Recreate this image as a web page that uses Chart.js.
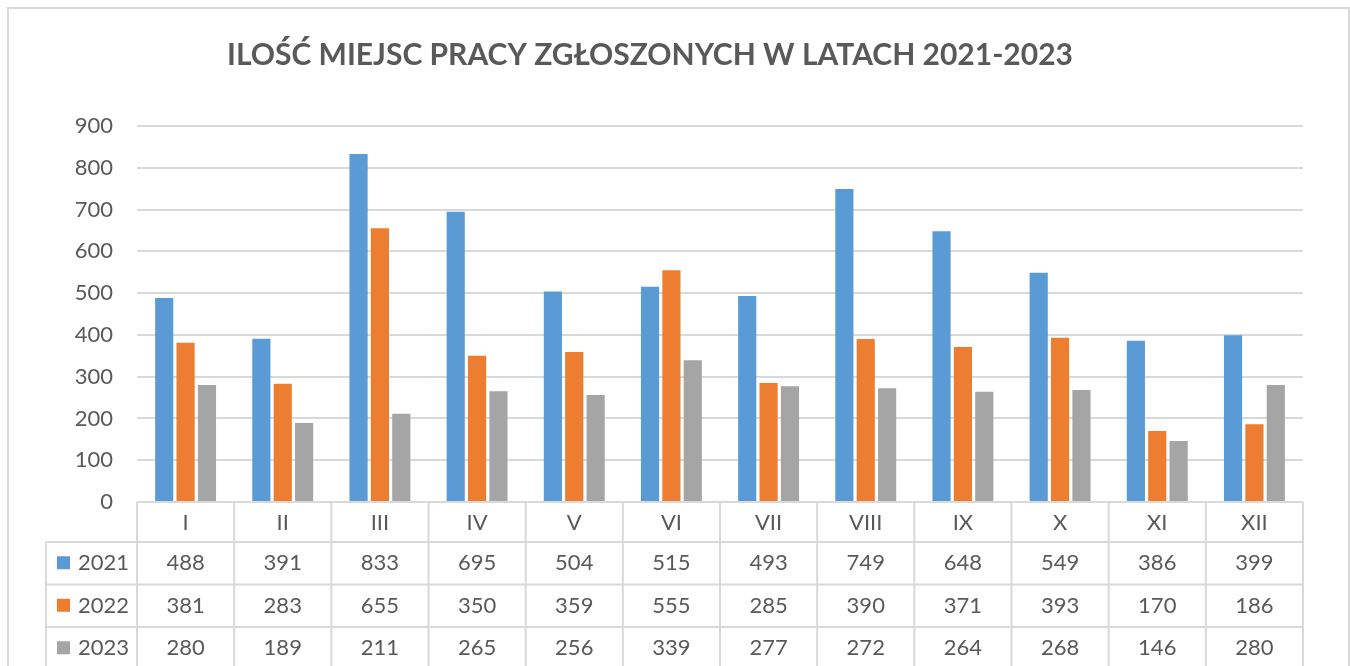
<!DOCTYPE html>
<html lang="pl">
<head>
<meta charset="utf-8">
<title>Ilość miejsc pracy</title>
<script src="https://cdn.jsdelivr.net/npm/chart.js@4"></script>
<style>
    html, body { margin: 0; padding: 0; background: #fff; overflow: hidden; }
    #ramka {
        position: absolute; left: 7px; top: 7px; width: 1339px; height: 700px;
        border: 2px solid #d9d9d9;
    }
    #wykres { position: absolute; left: 0; top: 0; }
</style>
</head>
<body>
<div id="ramka"></div>
<canvas id="wykres" width="1350" height="700"></canvas>
<script>
// dane z wykresu
const miesiace = ["I", "II", "III", "IV", "V", "VI", "VII", "VIII", "IX", "X", "XI", "XII"];
const lata = ["2021", "2022", "2023"];
const dane2021 = [488, 391, 833, 695, 504, 515, 493, 749, 648, 549, 386, 399];
const dane2022 = [381, 283, 655, 350, 359, 555, 285, 390, 371, 393, 170, 186];
const dane2023 = [280, 189, 211, 265, 256, 339, 277, 272, 264, 268, 146, 280];
const kolory = ["#5b9bd5", "#ed7d31", "#a5a5a5"];
const tytul = "ILOŚĆ MIEJSC PRACY ZGŁOSZONYCH W LATACH 2021-2023";

document.addEventListener("DOMContentLoaded", () => {
    const ctx = document.getElementById("wykres");
    const szary = "#595959";
    const linia = "#d9d9d9";
    const czcionka = "Lato, 'Open Sans', sans-serif";
    const serie = [dane2021, dane2022, dane2023];

    // tytul i tabela danych pod wykresem
    const tabelaPlugin = {
        id: "tabela",
        afterDraw(chart) {
            const c = chart.ctx;
            const area = chart.chartArea;
            const x = chart.scales.x;
            const w = (area.right - area.left) / miesiace.length;
            const gora = area.bottom;
            const naglowek = 40;
            const wiersz = 42.5;
            const lewo = 46;
            const dol = chart.height;

            c.save();
            // tytul
            c.fillStyle = szary;
            c.font = "bold 30px " + czcionka;
            c.textAlign = "center";
            c.textBaseline = "middle";
            c.fillText(tytul, 650, 55);

            c.strokeStyle = linia;
            c.lineWidth = 2;
            c.beginPath();
            // poziome linie
            c.moveTo(area.left, gora);
            c.lineTo(area.right, gora);
            for (let r = 0; r <= lata.length; r++) {
                const y = gora + naglowek + r * wiersz;
                c.moveTo(lewo, y);
                c.lineTo(area.right, y);
            }
            // pionowe linie
            for (let i = 0; i <= miesiace.length; i++) {
                const xx = area.left + i * w;
                c.moveTo(xx, gora);
                c.lineTo(xx, dol);
            }
            c.moveTo(lewo, gora + naglowek);
            c.lineTo(lewo, dol);
            c.stroke();

            c.font = "22px " + czcionka;
            c.fillStyle = szary;
            c.textAlign = "center";
            miesiace.forEach((m, i) => {
                c.fillText(m, x.getPixelForTick(i), gora + naglowek / 2 + 1);
            });
            serie.forEach((s, r) => {
                const yc = gora + naglowek + r * wiersz + wiersz / 2;
                s.forEach((v, i) => {
                    c.fillStyle = szary;
                    c.textAlign = "center";
                    c.fillText(String(v), x.getPixelForTick(i), yc);
                });
                // legenda
                c.fillStyle = kolory[r];
                c.fillRect(57, yc - 7, 13, 13);
                c.fillStyle = szary;
                c.textAlign = "left";
                c.fillText(lata[r], 78, yc);
            });
            c.restore();
        }
    };

    new Chart(ctx, {
        type: "bar",
        data: {
            labels: miesiace,
            datasets: lata.map((rok, i) => ({
                label: rok,
                data: serie[i],
                backgroundColor: kolory[i],
                barPercentage: 0.85,
                categoryPercentage: 0.66,
            })),
        },
        options: {
            responsive: false,
            animation: false,
            devicePixelRatio: 1,
            layout: { padding: { left: 0, right: 47, top: 126, bottom: 198 } },
            plugins: {
                legend: { display: false },
                title: { display: false },
                tooltip: { enabled: false },
            },
            scales: {
                x: { display: false },
                y: {
                    min: 0,
                    max: 900,
                    afterFit: (scale) => { scale.width = 137; },
                    border: { display: false },
                    grid: { color: linia, lineWidth: 2, drawTicks: false },
                    ticks: {
                        stepSize: 100,
                        padding: 24,
                        color: szary,
                        font: { family: czcionka, size: 22 },
                    },
                },
            },
        },
        plugins: [tabelaPlugin],
    });
});
</script>
</body>
</html>
